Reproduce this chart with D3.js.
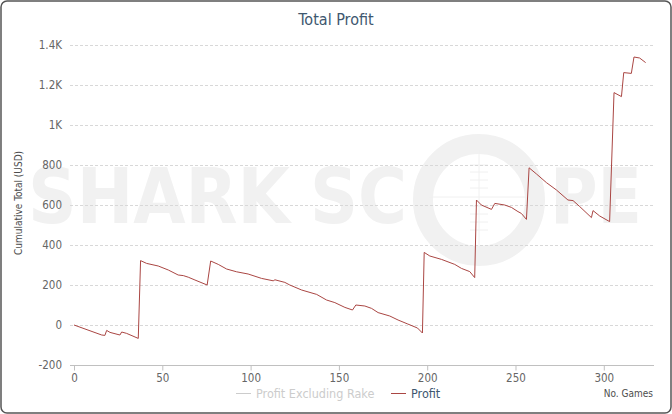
<!DOCTYPE html>
<html><head><meta charset="utf-8">
<script src="https://cdnjs.cloudflare.com/ajax/libs/d3/7.8.5/d3.min.js"></script>
<style>body{margin:0;background:#fff}svg{display:block}</style>
</head><body>
<script>
const title = "Total Profit";
const yTicks = [-200, 0, 200, 400, 600, 800, 1000, 1200, 1400];
const yTickLabels = ["-200", "0", "200", "400", "600", "800", "1K", "1.2K", "1.4K"];
const xTicks = [0, 50, 100, 150, 200, 250, 300];
const seriesNames = ["Profit Excluding Rake", "Profit"];
const games = [0, 15.7, 17.5, 18.5, 20.4, 26, 27, 29.8, 36.4, 37.7, 41.1, 47.7, 53.4, 59, 61.9, 64.7, 68.5, 75.4,
  77.4, 81.7, 86.4, 92.1, 98.6, 106.2, 112.8, 113.8, 119.4, 122.2, 128.9, 137.4, 143, 147.7, 153.4, 157.7,
  159.6, 164.7, 168.5, 172.2, 178.8, 183.5, 189, 194.5, 197.3,
  198.3, 201.5, 208.1, 215.6, 219.4, 224.1, 226.9,
  227.9, 230.7, 236.4, 238.3, 243.9, 247.7, 251.4, 253.3, 256.2,
  257.7, 261.9, 267.5, 273.2, 279.7, 282.6, 286.4, 293.0, 293.9, 297.7, 303.3,
  305.8, 310, 311.3, 315.6, 317.1, 320.3, 323.7];
const profit = [0, -50, -52, -27, -37, -50, -35, -42, -67, 322, 308, 295, 275, 250, 247, 239, 225, 200,
  320, 303, 280, 266, 255, 233, 221, 226, 213, 200, 175, 153, 125, 112, 88, 75,
  100, 95, 83, 62, 45, 25, 5, -15, -40,
  363, 345, 328, 303, 283, 267, 237,
  625, 600, 578, 608, 600, 588, 567, 558, 528,
  786, 755, 712, 675, 625, 622, 592, 537, 572, 545, 517,
  1162, 1142, 1262, 1258, 1340, 1335, 1312];

const W = 672, H = 414;
const svg = d3.select("body").append("svg").attr("width", W).attr("height", H);
const font = "'DejaVu Sans Condensed','DejaVu Sans',sans-serif";

svg.append("rect").attr("x", 1).attr("y", 1).attr("width", W - 2).attr("height", H - 2)
  .attr("rx", 6).attr("fill", "#fff").attr("stroke", "#555").attr("stroke-width", 1.5);

const x = d3.scaleLinear().domain([0, 329]).range([74, 655]);
const y = d3.scaleLinear().domain([-200, 1400]).range([365, 45]);

// watermark
const wm = svg.append("g").attr("fill", "#f1f1f1");
wm.append("text").attr("x", 28).attr("y", 223).attr("font-family", "'DejaVu Sans',sans-serif")
  .attr("font-weight", "bold").attr("font-size", 76).attr("textLength", 262).attr("lengthAdjust", "spacingAndGlyphs").text("SHARK");
wm.append("text").attr("x", 310).attr("y", 223).attr("font-family", "'DejaVu Sans',sans-serif")
  .attr("font-weight", "bold").attr("font-size", 76).attr("textLength", 97).attr("lengthAdjust", "spacingAndGlyphs").text("SC");
wm.append("text").attr("x", 550).attr("y", 223).attr("font-family", "'DejaVu Sans',sans-serif")
  .attr("font-weight", "bold").attr("font-size", 76).attr("textLength", 92).attr("lengthAdjust", "spacingAndGlyphs").text("PE");
wm.append("circle").attr("cx", 479).attr("cy", 200).attr("r", 56).attr("fill", "none")
  .attr("stroke", "#f1f1f1").attr("stroke-width", 20);
const ch = svg.append("g").attr("stroke", "#f0f0f0").attr("stroke-width", 1);
ch.append("line").attr("x1", 479).attr("x2", 479).attr("y1", 150).attr("y2", 250);
ch.append("line").attr("x1", 429).attr("x2", 529).attr("y1", 197).attr("y2", 197);
[165, 172, 180, 188, 206, 214, 222, 230].forEach(v => ch.append("line").attr("x1", 470).attr("x2", 488).attr("y1", v).attr("y2", v));

// grid
svg.append("g").selectAll("line").data(yTicks.filter(d => d !== -200)).join("line")
  .attr("x1", 70).attr("x2", 654).attr("y1", d => y(d) + 0.5).attr("y2", d => y(d) + 0.5)
  .attr("stroke", "#d8d8d8").attr("stroke-dasharray", "3,2");

// y labels
svg.append("g").selectAll("text").data(yTicks).join("text")
  .attr("x", 62).attr("y", d => y(d) + 4).attr("text-anchor", "end")
  .attr("font-family", font).attr("font-size", 11.5).attr("fill", "#666")
  .text((d, i) => yTickLabels[i]);

// x axis
const xAxis = svg.append("g").attr("transform", "translate(0,365.5)")
  .call(d3.axisBottom(x).tickValues(xTicks).tickSize(5).tickPadding(3));
xAxis.select(".domain").attr("stroke", "#c0c0c0").attr("d", "M70,0H654");
xAxis.selectAll(".tick line").attr("stroke", "#c0c0c0");
xAxis.selectAll("text").attr("font-family", font).attr("font-size", 11.5).attr("fill", "#666");

// y axis title
svg.append("text").attr("transform", "translate(22,203) rotate(-90)").attr("text-anchor", "middle")
  .attr("font-family", font).attr("font-size", 10).attr("fill", "#4d4d4d").text("Cumulative Total (USD)");

// line
const pts = games.map((g, i) => [g, profit[i]]);
svg.append("path").datum(pts)
  .attr("d", d3.line().x(d => x(d[0])).y(d => y(d[1])))
  .attr("fill", "none").attr("stroke", "#aa4643").attr("stroke-width", 1);

// title
svg.append("text").attr("x", 336).attr("y", 25).attr("text-anchor", "middle")
  .attr("font-family", font).attr("font-size", 16).attr("fill", "#3e576f").text(title);

// legend
const lg = svg.append("g");
const lgItems = [{x: 236, color: "#cccccc", text: "#cccccc"}, {x: 391, color: "#aa4643", text: "#3e576f"}];
lgItems.forEach((it, i) => {
  lg.append("line").attr("x1", it.x).attr("x2", it.x + 15).attr("y1", 393.5).attr("y2", 393.5)
    .attr("stroke", it.color).attr("stroke-width", 1);
  lg.append("text").attr("x", it.x + 20).attr("y", 398).attr("font-family", font)
    .attr("font-size", 12.5).attr("fill", it.text).text(seriesNames[i]);
});

svg.append("text").attr("x", 653).attr("y", 397).attr("text-anchor", "end")
  .attr("font-family", font).attr("font-size", 10).attr("fill", "#4d4d4d").text("No. Games");
</script>
</body></html>
